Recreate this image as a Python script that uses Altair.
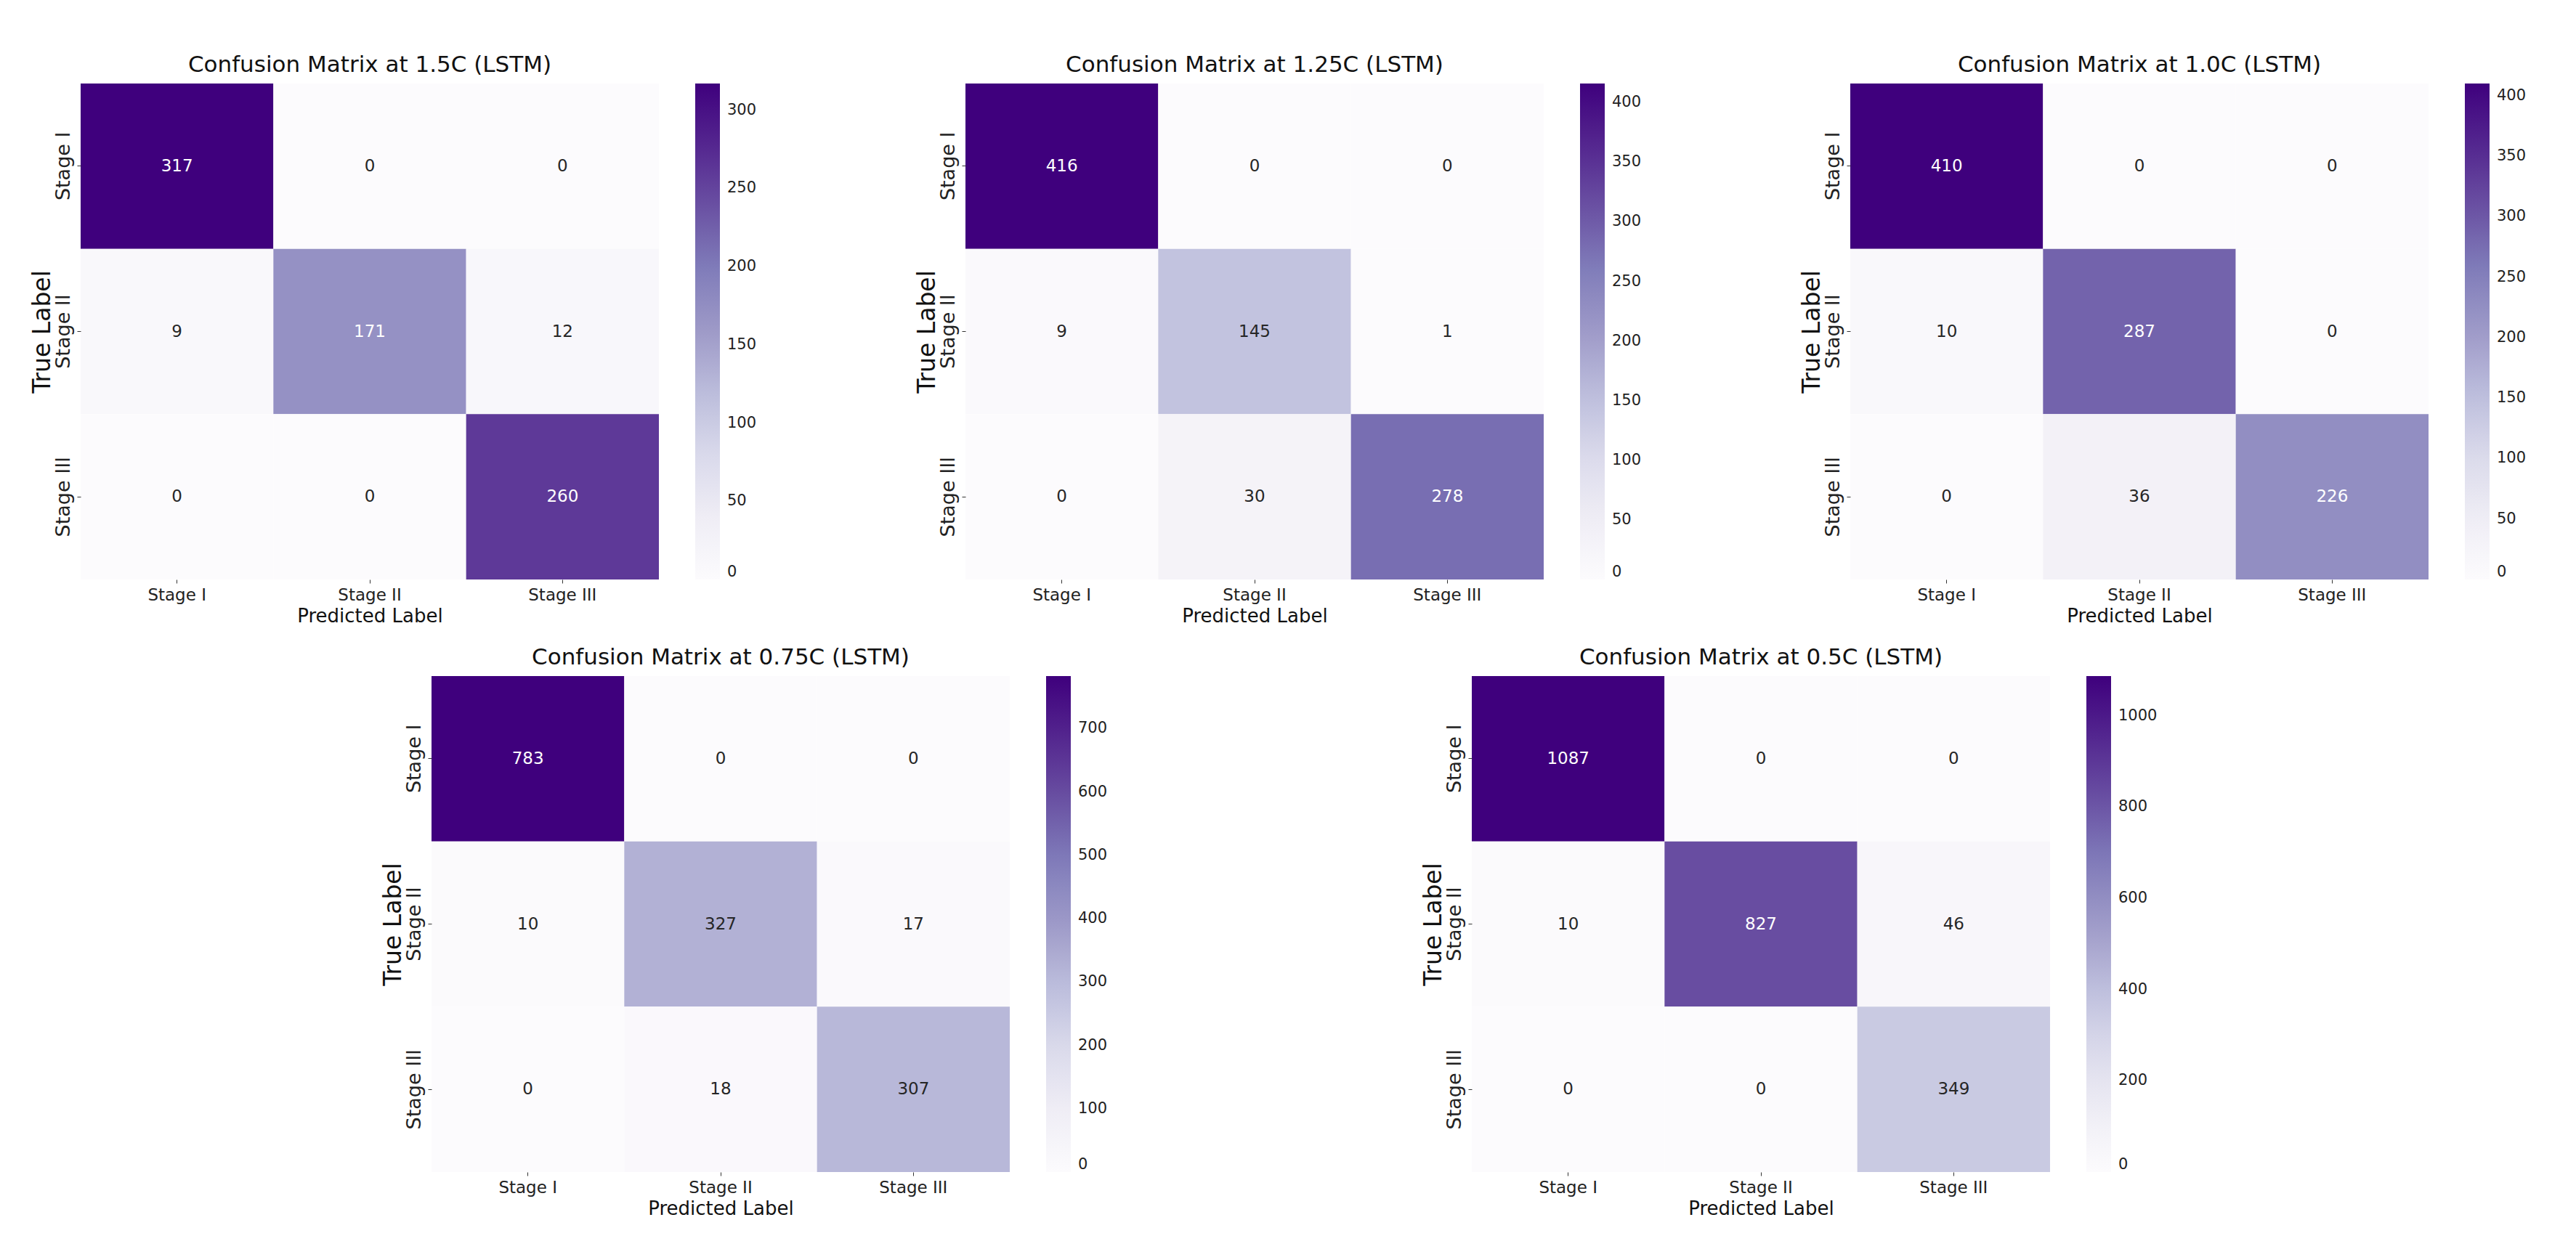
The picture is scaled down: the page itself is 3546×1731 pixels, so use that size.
import altair as alt
import pandas as pd

labels = ["Stage I", "Stage II", "Stage III"]

titles = [
    "Confusion Matrix at 1.5C (LSTM)",
    "Confusion Matrix at 1.25C (LSTM)",
    "Confusion Matrix at 1.0C (LSTM)",
    "Confusion Matrix at 0.75C (LSTM)",
    "Confusion Matrix at 0.5C (LSTM)",
]

cm_15 = [[317, 0, 0], [9, 171, 12], [0, 0, 260]]
cm_125 = [[416, 0, 0], [9, 145, 1], [0, 30, 278]]
cm_10 = [[410, 0, 0], [10, 287, 0], [0, 36, 226]]
cm_075 = [[783, 0, 0], [10, 327, 17], [0, 18, 307]]
cm_05 = [[1087, 0, 0], [10, 827, 46], [0, 0, 349]]

ticks_15 = [0, 50, 100, 150, 200, 250, 300]
ticks_125 = [0, 50, 100, 150, 200, 250, 300, 350, 400]
ticks_10 = [0, 50, 100, 150, 200, 250, 300, 350, 400]
ticks_075 = [0, 100, 200, 300, 400, 500, 600, 700]
ticks_05 = [0, 200, 400, 600, 800, 1000]

# matplotlib / ColorBrewer "Purples" stops
PURPLES = ["#fcfbfd", "#efedf5", "#dadaeb", "#bcbddc", "#9e9ac8",
           "#807dba", "#6a51a3", "#54278f", "#3f007d"]

FONT = "DejaVu Sans"
W, H = 796, 683


def panel(title, mat, ticks):
    rows = []
    for i, t in enumerate(labels):
        for j, p in enumerate(labels):
            rows.append({"true": t, "pred": p, "v": mat[i][j]})
    df = pd.DataFrame(rows)
    vals = [v for r in mat for v in r]
    lo, hi = min(vals), max(vals)
    n = len(PURPLES) - 1
    dom = [lo + (hi - lo) * k / n for k in range(n + 1)]
    base = alt.Chart(df).encode(
        x=alt.X(
            "pred:N",
            sort=labels,
            title="Predicted Label",
            scale=alt.Scale(paddingInner=0, paddingOuter=0),
            axis=alt.Axis(
                labelAngle=0,
                labelFontSize=23,
                labelFont=FONT,
                labelColor="#222222",
                labelPadding=5,
                tickSize=5,
                tickColor="#333333",
                domain=False,
                titleFontSize=26,
                titleFont=FONT,
                titleFontWeight="normal",
                titleColor="#111111",
                titlePadding=4,
            ),
        ),
        y=alt.Y(
            "true:N",
            sort=labels,
            title="True Label",
            scale=alt.Scale(paddingInner=0, paddingOuter=0),
            axis=alt.Axis(
                labelAngle=-90,
                labelFontSize=27,
                labelFont=FONT,
                labelColor="#222222",
                labelPadding=5,
                tickSize=5,
                tickColor="#333333",
                domain=False,
                titleFontSize=33,
                titleFont=FONT,
                titleFontWeight="normal",
                titleColor="#111111",
                titlePadding=-2,
            ),
        ),
    )
    rect = base.mark_rect().encode(
        color=alt.Color(
            "v:Q",
            scale=alt.Scale(domain=dom, range=PURPLES, interpolate="rgb", nice=False, zero=False),
            legend=alt.Legend(
                title=None,
                values=ticks,
                format="d",
                orient="right",
                direction="vertical",
                gradientLength=H,
                gradientThickness=34,
                offset=50,
                padding=0,
                labelFontSize=21,
                labelFont=FONT,
                labelColor="#222222",
                labelOffset=10,
                labelBaseline="middle",
                labelOverlap=False,
            ),
        )
    )
    text = (
        base.mark_text(fontSize=23, font=FONT)
        .transform_joinaggregate(mx="max(v)")
        .transform_calculate(t="datum.v / datum.mx")
        .encode(
            text="v:Q",
            color=alt.condition(alt.datum.t > 0.5, alt.value("white"), alt.value("#262626")),
        )
    )
    return (
        alt.layer(rect, text)
        .resolve_scale(color="independent")
        .properties(
            width=W,
            height=H,
            title=alt.TitleParams(
                title, fontSize=31, font=FONT, fontWeight="normal", color="#111111",
                anchor="middle", frame="group", offset=9,
            ),
        )
    )


p1 = panel(titles[0], cm_15, ticks_15)
p2 = panel(titles[1], cm_125, ticks_125)
p3 = panel(titles[2], cm_10, ticks_10)
p4 = panel(titles[3], cm_075, ticks_075)
p5 = panel(titles[4], cm_05, ticks_05)

spacer = (
    alt.Chart(pd.DataFrame({"a": [0]}))
    .mark_rule(opacity=0)
    .encode(x=alt.value(0), y=alt.value(0), y2=alt.value(1))
    .properties(width=483, height=H)
)

top = alt.hconcat(p1, p2, p3, spacing=422, bounds="flush").resolve_scale(color="independent")
bottom_inner = alt.hconcat(p4, p5, spacing=636, bounds="flush").resolve_scale(color="independent")
bottom = alt.hconcat(spacer, bottom_inner, spacing=0, bounds="flush").resolve_scale(color="independent")

# nested rows count as zero-height in flush layout, so spacing = row offset
chart = (
    alt.vconcat(top, bottom, spacing=H + 133, bounds="flush")
    .resolve_scale(color="independent")
    .properties(padding={"left": 34, "top": 66, "right": 5, "bottom": 5}, background="white")
    .configure_view(strokeWidth=0)
)

chart.save("out.html", embed_options={"renderer": "svg", "actions": False})
